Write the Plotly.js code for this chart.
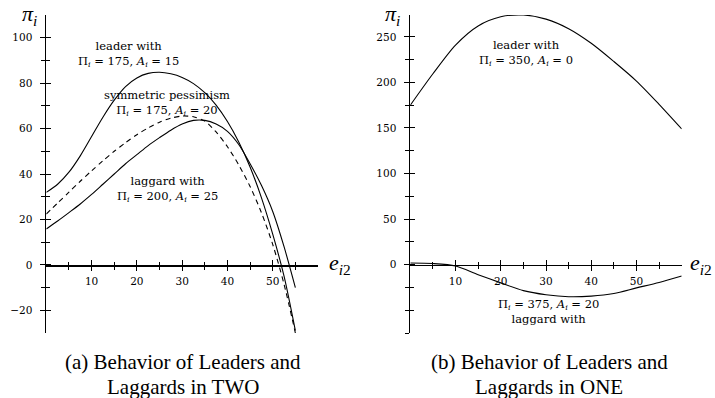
<!DOCTYPE html>
<html>
<head>
<meta charset="utf-8">
<script src="https://cdn.plot.ly/plotly-3.0.1.min.js"></script>
<style>html,body{margin:0;padding:0;background:#fff}</style>
</head>
<body>
<div id="chart" style="width:715px;height:398px"></div>
<script>
// Panel (a): profits pi_i against effort e_i2 in TWO
const effortTwo = [0, 2.5, 5, 7.5, 10, 12.5, 15, 17.5, 20, 22.5, 25, 27.5, 30, 32.5, 35, 37.5, 40, 42.5, 45, 47.5, 50, 52.5, 55];
const leaderTwo = [31.9, 35.5, 40.8, 48, 56.5, 65, 72.5, 78.5, 82.3, 84.3, 84.8, 84.1, 82.5, 79.8, 75.8, 70.3, 63.1, 54.1, 43.1, 29.6, 13.5, -5, -29];
const pessimismTwo = [22.4, 27.2, 32, 36.8, 41.4, 45.8, 50, 53.8, 57.3, 60.3, 62.8, 64.6, 65.5, 65.2, 63.3, 58.5, 52, 44, 34.5, 23, 9, -8.5, -30];
const laggardTwo = [15.8, 19.3, 23, 26.8, 31, 35.5, 40, 44.5, 48.5, 52.5, 56, 59.3, 62, 63.6, 63.6, 62, 58.8, 53, 44.5, 35, 23.5, 8, -10];

// Panel (b): profits pi_i against effort e_i2 in ONE
const effortOne = [0, 5, 10, 15, 20, 25, 30, 35, 40, 45, 50, 55, 60];
const leaderOne = [175, 209.5, 241, 262, 272, 274, 269.5, 259, 243, 223, 201.5, 176, 149];
const laggardOne = [1.8, 1.2, -1.5, -11, -20, -28.5, -33, -35.2, -34.5, -31.6, -25.5, -19.5, -12.5];

// Axis ticks and labels
const xMajorTicks = [10, 20, 30, 40, 50];
const xMinorTicks = [5, 15, 25, 35, 45, 55];
const yMajorTwo = [-20, 0, 20, 40, 60, 80, 100];
const yLabelsTwo = ['\u221220', '0', '20', '40', '60', '80', '100'];
const yMinorTwo = [-10, 10, 30, 50, 70, 90];
const yMajorOne = [0, 50, 100, 150, 200, 250];
const yLabelsOne = ['0', '50', '100', '150', '200', '250'];
const yMinorOne = [-75, -50, -25, 25, 75, 125, 175, 225];

const rangeX = [0, 60];
const rangeTwo = [-30, 110];
const rangeOne = [-75, 274];

const W = 715, H = 398;
const domA = [46.3 / W, 318 / W];
const domB = [410.3 / W, 681.7 / W];
const domY = [1 - 333 / H, 1 - 15 / H];

const serif = 'DejaVu Serif, serif';
const tickFont = {family: serif, size: 10.5, color: '#000'};
const noteFont = {family: serif, size: 11.5, color: '#000'};

// height in paper units where the value 0 sits on a y axis
function zeroPos(r) {
  return domY[0] + (0 - r[0]) / (r[1] - r[0]) * (domY[1] - domY[0]);
}

function xAxis(domain, yr, side, showLabels, overlay) {
  const ax = {
    domain: domain, range: rangeX, autorange: false,
    anchor: 'free', position: zeroPos(yr),
    showline: true, linecolor: '#000', linewidth: 1.8,
    showgrid: false, zeroline: false,
    tickmode: 'array', tickvals: xMajorTicks,
    ticks: side, ticklen: 4.5, tickwidth: 1, tickcolor: '#000',
    minor: {tickmode: 'array', tickvals: xMinorTicks, ticks: side, ticklen: 3, tickwidth: 1, tickcolor: '#000', showgrid: false},
    showticklabels: showLabels, tickfont: tickFont, ticklabelstandoff: 1,
    fixedrange: true
  };
  if (overlay) ax.overlaying = overlay;
  return ax;
}

function yAxis(anchor, yr, major, labels, minor, side, showLabels, overlay) {
  const ax = {
    domain: domY, range: yr, autorange: false,
    anchor: anchor, side: 'left',
    showline: true, linecolor: '#000', linewidth: 1.8,
    showgrid: false, zeroline: false,
    tickmode: 'array', tickvals: major,
    ticks: side, ticklen: 5, tickwidth: 1, tickcolor: '#000',
    minor: {tickmode: 'array', tickvals: minor, ticks: side, ticklen: 3.5, tickwidth: 1, tickcolor: '#000', showgrid: false},
    showticklabels: showLabels, tickfont: tickFont, ticklabelstandoff: 5,
    fixedrange: true
  };
  if (labels) ax.ticktext = labels;
  if (overlay) ax.overlaying = overlay;
  return ax;
}

const curve = (x, y, xa, ya, dash) => ({
  type: 'scatter', mode: 'lines', x: x, y: y, xaxis: xa, yaxis: ya,
  line: {color: '#000', width: 1.1, shape: 'spline', smoothing: 0.8, dash: dash || 'solid'},
  hoverinfo: 'skip', showlegend: false
});
const blank = (xa, ya) => ({type: 'scatter', mode: 'lines', x: [], y: [], xaxis: xa, yaxis: ya, hoverinfo: 'skip', showlegend: false});

const traces = [
  curve(effortTwo, leaderTwo, 'x', 'y'),
  curve(effortTwo, pessimismTwo, 'x', 'y', '5px,4px'),
  curve(effortTwo, laggardTwo, 'x', 'y'),
  curve(effortOne, leaderOne, 'x2', 'y2'),
  curve(effortOne, laggardOne, 'x2', 'y2'),
  blank('x3', 'y'), blank('x', 'y3'),
  blank('x4', 'y2'), blank('x2', 'y4')
];

const sub = s => '<sub><i>' + s + '</i></sub>';
const params = (p, a) => 'Π' + sub('i') + ' = ' + p + ', <i>A</i>' + sub('i') + ' = ' + a;
const note = (xa, ya, x, y, text) => ({xref: xa, yref: ya, x: x, y: y, text: text, showarrow: false, font: noteFont, align: 'center', xanchor: 'center', yanchor: 'middle'});
const paperNote = (px, py, text, font) => ({xref: 'paper', yref: 'paper', x: px / W, y: 1 - py / H, text: text, showarrow: false, font: font, xanchor: 'center', yanchor: 'middle'});

const symFont = {family: 'Liberation Serif, serif', size: 22, color: '#000'};
const capFont = {family: 'Liberation Serif, serif', size: 21, color: '#000'};
const piLabel = '<i>π</i>' + sub('i');
const eLabel = '<i>e</i><sub><i>i</i>2</sub>';

const annotations = [
  note('x', 'y', 18.1, 93.0, 'leader with<br>' + params(175, 15)),
  note('x', 'y', 26.7, 71.2, 'symmetric pessimism<br>' + params(175, 20)),
  note('x', 'y', 26.7, 33.5, 'laggard with<br>' + params(200, 25)),
  note('x2', 'y2', 25.5, 231.9, 'leader with<br>' + params(350, 0)),
  note('x2', 'y2', 30.5, -50.9, params(375, 20) + '<br>laggard with'),
  paperNote(29, 15, piLabel, symFont),
  paperNote(392, 15, piLabel, symFont),
  paperNote(340, 264, eLabel, symFont),
  paperNote(701, 264, eLabel, symFont),
  paperNote(182.5, 361.5, '(a) Behavior of Leaders and', capFont),
  paperNote(182.5, 387, 'Laggards in TWO', capFont),
  paperNote(549, 361.5, '(b) Behavior of Leaders and', capFont),
  paperNote(549, 387, 'Laggards in ONE', capFont)
];

const layout = {
  width: W, height: H,
  margin: {l: 0, r: 0, t: 0, b: 0},
  paper_bgcolor: '#fff', plot_bgcolor: 'rgba(0,0,0,0)',
  showlegend: false,
  xaxis: xAxis(domA, rangeTwo, 'outside', true),
  xaxis3: xAxis(domA, rangeTwo, 'inside', false, 'x'),
  xaxis2: xAxis(domB, rangeOne, 'outside', true),
  xaxis4: xAxis(domB, rangeOne, 'inside', false, 'x2'),
  yaxis: yAxis('x', rangeTwo, yMajorTwo, yLabelsTwo, yMinorTwo, 'outside', true),
  yaxis3: yAxis('x', rangeTwo, yMajorTwo, null, yMinorTwo, 'inside', false, 'y'),
  yaxis2: yAxis('x2', rangeOne, yMajorOne, yLabelsOne, yMinorOne, 'outside', true),
  yaxis4: yAxis('x2', rangeOne, yMajorOne, null, yMinorOne, 'inside', false, 'y2'),
  annotations: annotations
};

Plotly.newPlot('chart', traces, layout, {staticPlot: true, displayModeBar: false});
</script>
</body>
</html>
